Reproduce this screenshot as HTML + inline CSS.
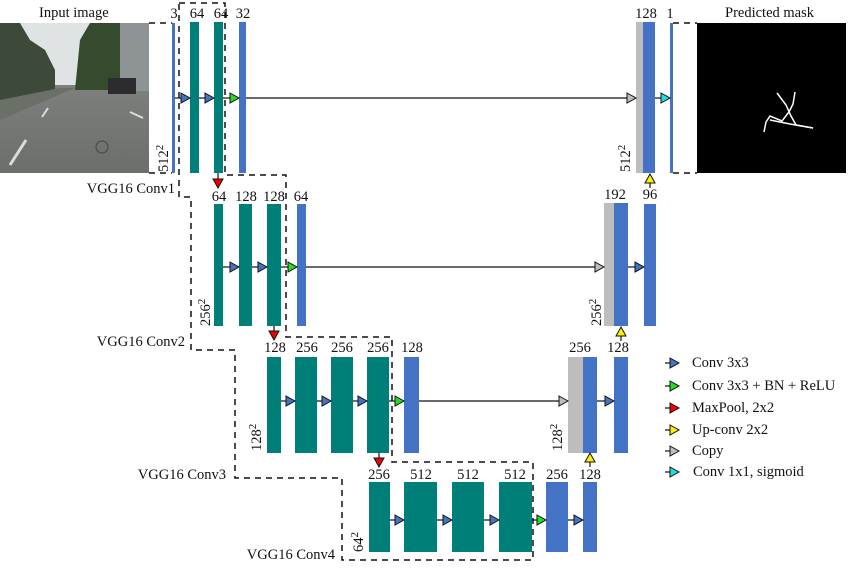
<!DOCTYPE html>
<html><head><meta charset="utf-8"><style>
html,body{margin:0;padding:0;background:#fff}
svg{display:block}
text{font-family:"Liberation Serif",serif;font-size:14.5px;fill:#111}
.t{fill:#007f78}.b{fill:#4472c4}.g{fill:#bdbdbd}
.d{stroke:#111;stroke-width:1.5;stroke-dasharray:6,5;fill:none}
.l{stroke:#111;stroke-width:1.2}
.tri{stroke:#111;stroke-width:1}
</style></head><body>
<svg width="850" height="570" viewBox="0 0 850 570" xmlns="http://www.w3.org/2000/svg">
<defs>
<linearGradient id="road" x1="0" y1="0" x2="0" y2="1"><stop offset="0" stop-color="#8a8c8a"/><stop offset="1" stop-color="#6c6e6c"/></linearGradient>
</defs>
<!-- input image -->
<rect x="0" y="23" width="149" height="150" fill="url(#road)"/>
<rect x="0" y="23" width="149" height="62" fill="#dfe3e3"/>
<polygon points="0,23 20,23 30,40 45,50 55,70 55,95 0,100" fill="#3d4a3a"/>
<polygon points="75,90 80,40 90,23 122,23 122,90" fill="#364a2e"/>
<rect x="120" y="23" width="29" height="68" fill="#8e9496"/>
<rect x="108" y="78" width="28" height="16" fill="#2c2c30"/>
<polygon points="0,100 60,88 75,88 0,120" fill="#6a6f68"/>
<line x1="10" y1="165" x2="26" y2="140" stroke="#dcdcdc" stroke-width="3"/>
<line x1="42" y1="117" x2="48" y2="108" stroke="#dcdcdc" stroke-width="2"/>
<line x1="130" y1="112" x2="143" y2="118" stroke="#dcdcdc" stroke-width="2"/>
<circle cx="102" cy="147" r="6" fill="none" stroke="#444" stroke-width="1"/>
<text x="39" y="17">Input image</text>
<text x="725" y="17">Predicted mask</text>
<!-- mask -->
<rect x="697" y="23" width="149" height="150" fill="#000"/>
<polyline points="777,93 786,105 791,116 796,125 813,128" fill="none" stroke="#fff" stroke-width="1.5"/>
<polyline points="795,92 793,104 789,112 782,121 770,116 766,122 764,132" fill="none" stroke="#fff" stroke-width="1.5"/>
<polyline points="770,120 790,124 813,128" fill="none" stroke="#fff" stroke-width="1.5"/>
<!-- level1 -->
<rect class="b" x="172" y="23" width="3" height="150"/>
<line class="d" x1="149" y1="23" x2="172" y2="23"/><line class="d" x1="149" y1="173" x2="172" y2="173"/>
<rect class="t" x="190" y="22" width="9" height="151"/>
<rect class="t" x="214" y="22" width="9" height="151"/>
<rect class="b" x="239" y="22" width="7" height="151"/>
<text x="174" y="18" text-anchor="middle">3</text>
<text x="197" y="18" text-anchor="middle">64</text>
<text x="221" y="18" text-anchor="middle">64</text>
<text x="243" y="18" text-anchor="middle">32</text>
<text transform="translate(168,172) rotate(-90)">512<tspan dy="-5" font-size="11">2</tspan></text>
<!-- decoder level1 -->
<rect class="g" x="636" y="22" width="7" height="151"/>
<rect class="b" x="643" y="22" width="12" height="151"/>
<rect class="b" x="670" y="23" width="3" height="150"/>
<line class="d" x1="673" y1="23" x2="697" y2="23"/><line class="d" x1="673" y1="173" x2="697" y2="173"/>
<text x="646" y="18" text-anchor="middle">128</text>
<text x="670" y="18" text-anchor="middle">1</text>
<text transform="translate(630,172) rotate(-90)">512<tspan dy="-5" font-size="11">2</tspan></text>
<!-- level2 -->
<rect class="t" x="214" y="204" width="9" height="122"/>
<rect class="t" x="239" y="204" width="13" height="122"/>
<rect class="t" x="267" y="204" width="14" height="122"/>
<rect class="b" x="297" y="204" width="9" height="122"/>
<text x="219" y="201" text-anchor="middle">64</text>
<text x="246" y="201" text-anchor="middle">128</text>
<text x="274" y="201" text-anchor="middle">128</text>
<text x="301" y="201" text-anchor="middle">64</text>
<text transform="translate(210,326) rotate(-90)">256<tspan dy="-5" font-size="11">2</tspan></text>
<rect class="g" x="604" y="203" width="10" height="123"/>
<rect class="b" x="614" y="203" width="14" height="123"/>
<rect class="b" x="644" y="204" width="12" height="122"/>
<text x="615" y="199" text-anchor="middle">192</text>
<text x="650" y="199" text-anchor="middle">96</text>
<text transform="translate(601,326) rotate(-90)">256<tspan dy="-5" font-size="11">2</tspan></text>
<!-- level3 -->
<rect class="t" x="267" y="357" width="14" height="96"/>
<rect class="t" x="295" y="357" width="22" height="96"/>
<rect class="t" x="331" y="357" width="22" height="96"/>
<rect class="t" x="367" y="357" width="22" height="96"/>
<rect class="b" x="404" y="357" width="15" height="96"/>
<text x="275" y="352" text-anchor="middle">128</text>
<text x="307" y="352" text-anchor="middle">256</text>
<text x="342" y="352" text-anchor="middle">256</text>
<text x="378" y="352" text-anchor="middle">256</text>
<text x="412" y="352" text-anchor="middle">128</text>
<text transform="translate(261,451) rotate(-90)">128<tspan dy="-5" font-size="11">2</tspan></text>
<rect class="g" x="568" y="357" width="15" height="96"/>
<rect class="b" x="583" y="357" width="14" height="96"/>
<rect class="b" x="614" y="357" width="14" height="96"/>
<text x="580" y="352" text-anchor="middle">256</text>
<text x="618" y="352" text-anchor="middle">128</text>
<text transform="translate(562,451) rotate(-90)">128<tspan dy="-5" font-size="11">2</tspan></text>
<!-- level4 -->
<rect class="t" x="369" y="482" width="21" height="70"/>
<rect class="t" x="404" y="482" width="33" height="70"/>
<rect class="t" x="452" y="482" width="32" height="70"/>
<rect class="t" x="499" y="482" width="33" height="70"/>
<rect class="b" x="546" y="482" width="22" height="70"/>
<rect class="b" x="583" y="482" width="14" height="70"/>
<text x="379" y="479" text-anchor="middle">256</text>
<text x="421" y="479" text-anchor="middle">512</text>
<text x="468" y="479" text-anchor="middle">512</text>
<text x="515" y="479" text-anchor="middle">512</text>
<text x="557" y="479" text-anchor="middle">256</text>
<text x="590" y="479" text-anchor="middle">128</text>
<text transform="translate(363,552) rotate(-90)">64<tspan dy="-5" font-size="11">2</tspan></text>
<!-- dashed VGG outline -->
<polyline class="d" points="179,3 225,3 225,175 286,175 286,337 392,337 392,462 533,462 533,560 342,560 342,478 235,478 235,350 191,350 191,197 179,197 179,3"/>
<text x="175" y="193" text-anchor="end">VGG16 Conv1</text>
<text x="185" y="346" text-anchor="end">VGG16 Conv2</text>
<text x="226" y="479" text-anchor="end">VGG16 Conv3</text>
<text x="335" y="559" text-anchor="end">VGG16 Conv4</text>
<!-- skip lines -->
<line class="l" x1="246" y1="98" x2="627" y2="98"/>
<line class="l" x1="306" y1="267" x2="595" y2="267"/>
<line class="l" x1="419" y1="401" x2="559" y2="401"/>
<g class="tri">
<polygon points="627,93 636,98 627,103" fill="#bdbdbd"/>
<polygon points="595,262 604,267 595,272" fill="#bdbdbd"/>
<polygon points="559,396 568,401 559,406" fill="#bdbdbd"/>
</g>
<g class="tri">
<line class="l" x1="175" y1="98" x2="181" y2="98"/><polygon points="181,93 190,98 181,103" fill="#4472c4"/>
<line class="l" x1="199" y1="98" x2="205" y2="98"/><polygon points="205,93 214,98 205,103" fill="#4472c4"/>
<line class="l" x1="223" y1="98" x2="230" y2="98"/><polygon points="230,93 239,98 230,103" fill="#22dd22"/>
<line class="l" x1="655" y1="98" x2="661" y2="98"/><polygon points="661,93 670,98 661,103" fill="#22dddd"/>
<line class="l" x1="223" y1="267" x2="230" y2="267"/><polygon points="230,262 239,267 230,272" fill="#4472c4"/>
<line class="l" x1="252" y1="267" x2="258" y2="267"/><polygon points="258,262 267,267 258,272" fill="#4472c4"/>
<line class="l" x1="281" y1="267" x2="288" y2="267"/><polygon points="288,262 297,267 288,272" fill="#22dd22"/>
<line class="l" x1="628" y1="267" x2="635" y2="267"/><polygon points="635,262 644,267 635,272" fill="#4472c4"/>
<line class="l" x1="281" y1="401" x2="286" y2="401"/><polygon points="286,396 295,401 286,406" fill="#4472c4"/>
<line class="l" x1="317" y1="401" x2="322" y2="401"/><polygon points="322,396 331,401 322,406" fill="#4472c4"/>
<line class="l" x1="353" y1="401" x2="358" y2="401"/><polygon points="358,396 367,401 358,406" fill="#4472c4"/>
<line class="l" x1="389" y1="401" x2="395" y2="401"/><polygon points="395,396 404,401 395,406" fill="#22dd22"/>
<line class="l" x1="597" y1="401" x2="605" y2="401"/><polygon points="605,396 614,401 605,406" fill="#4472c4"/>
<line class="l" x1="390" y1="520" x2="395" y2="520"/><polygon points="395,515 404,520 395,525" fill="#4472c4"/>
<line class="l" x1="437" y1="520" x2="443" y2="520"/><polygon points="443,515 452,520 443,525" fill="#4472c4"/>
<line class="l" x1="484" y1="520" x2="490" y2="520"/><polygon points="490,515 499,520 490,525" fill="#4472c4"/>
<line class="l" x1="532" y1="520" x2="537" y2="520"/><polygon points="537,515 546,520 537,525" fill="#22dd22"/>
<line class="l" x1="568" y1="520" x2="574" y2="520"/><polygon points="574,515 583,520 574,525" fill="#4472c4"/>
<line class="l" x1="218" y1="173" x2="218" y2="179"/><polygon points="213,179 223,179 218,188" fill="#ee0000"/>
<line class="l" x1="274" y1="326" x2="274" y2="331"/><polygon points="269,331 279,331 274,340" fill="#ee0000"/>
<line class="l" x1="379" y1="453" x2="379" y2="458"/><polygon points="374,458 384,458 379,467" fill="#ee0000"/>
<line class="l" x1="650" y1="183" x2="650" y2="188"/><polygon points="645,183 655,183 650,174" fill="#ffee00"/>
<line class="l" x1="621" y1="336" x2="621" y2="341"/><polygon points="616,336 626,336 621,327" fill="#ffee00"/>
<line class="l" x1="590" y1="462" x2="590" y2="467"/><polygon points="585,462 595,462 590,453" fill="#ffee00"/>
<line class="l" x1="665" y1="363" x2="670" y2="363"/><polygon points="670,358 679,363 670,368" fill="#4472c4"/>
<line class="l" x1="665" y1="386" x2="670" y2="386"/><polygon points="670,381 679,386 670,391" fill="#22dd22"/>
<line class="l" x1="665" y1="408" x2="670" y2="408"/><polygon points="670,403 679,408 670,413" fill="#ee0000"/>
<line class="l" x1="665" y1="430" x2="670" y2="430"/><polygon points="670,425 679,430 670,435" fill="#ffee00"/>
<line class="l" x1="665" y1="451" x2="670" y2="451"/><polygon points="670,446 679,451 670,456" fill="#bdbdbd"/>
<line class="l" x1="665" y1="472" x2="670" y2="472"/><polygon points="670,467 679,472 670,477" fill="#22dddd"/>
</g>
<text x="692" y="367">Conv 3x3</text>
<text x="692" y="390">Conv 3x3 + BN + ReLU</text>
<text x="692" y="412">MaxPool, 2x2</text>
<text x="692" y="434">Up-conv 2x2</text>
<text x="692" y="455">Copy</text>
<text x="693" y="476">Conv 1x1, sigmoid</text>
</svg>
</body></html>
